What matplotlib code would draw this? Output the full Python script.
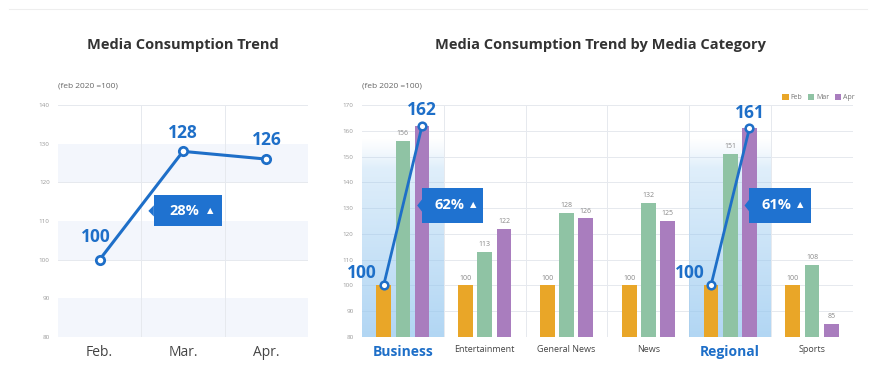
import matplotlib
matplotlib.use("Agg")
import matplotlib.pyplot as plt
import numpy as np
from matplotlib.patches import FancyBboxPatch, Polygon

# ---- data ----
months = ["Feb.", "Mar.", "Apr."]
overall = [100, 128, 126]
overall_change = "28%"

categories = ["Business", "Entertainment", "General News", "News", "Regional", "Sports"]
feb_vals = [100, 100, 100, 100, 100, 100]
mar_vals = [156, 113, 128, 132, 151, 108]
apr_vals = [162, 122, 126, 125, 161, 85]
highlight = ["Business", "Regional"]
highlight_change = {"Business": "62%", "Regional": "61%"}
legend_labels = ["Feb", "Mar", "Apr"]

left_ticks = [80, 90, 100, 110, 120, 130, 140]
right_ticks = [80, 90, 100, 110, 120, 130, 140, 150, 160, 170]

# ---- style ----
C_FEB = "#E9A628"
C_MAR = "#8FC3A4"
C_APR = "#A97DBE"
BLUE = "#1E6FC8"
BOX = "#1F72D0"
GRID = "#E6E9EE"
TICK = "#9A9A9A"
TXT = "#444444"
FONT = ["Open Sans", "DejaVu Sans"]
plt.rcParams["font.family"] = FONT

fig = plt.figure(figsize=(8.76, 3.79), dpi=100)
fig.patch.set_facecolor("white")

# top faint border
fig.add_artist(plt.Line2D([0.01, 0.99], [0.975, 0.975], color="#EEEEEE", lw=0.8))


def callout(ax, x, y, text, w, h):
    box = FancyBboxPatch((x - w / 2, y - h / 2), w, h,
                         boxstyle="square,pad=0", fc=BOX, ec="none", zorder=6)
    ax.add_patch(box)
    tri = Polygon([[x - w / 2, y + h * 0.18], [x - w / 2 - w * 0.08, y],
                   [x - w / 2, y - h * 0.18]], closed=True, fc=BOX, ec="none", zorder=6)
    ax.add_patch(tri)
    ax.text(x - w * 0.06, y, text, color="white", fontsize=10.5, fontweight="bold",
            ha="center", va="center", zorder=7)
    ax.text(x + w * 0.33, y + h * 0.02, "▲", color="white", fontsize=6,
            ha="center", va="center", zorder=7, family="DejaVu Sans")


def style_axes(ax, ticks):
    for s in ax.spines.values():
        s.set_visible(False)
    ax.set_yticks(ticks)
    ax.tick_params(axis="y", length=0, labelsize=4.5, labelcolor=TICK, pad=6)
    ax.tick_params(axis="x", length=0)
    for t in ticks:
        ax.axhline(t, color=GRID, lw=0.7, zorder=0)


# ---- left chart ----
axL = fig.add_axes([0.0662, 0.111, 0.2854, 0.612])
xL = np.arange(len(months))
axL.set_xlim(-0.5, len(months) - 0.5)
axL.set_ylim(left_ticks[0], left_ticks[-1])
style_axes(axL, left_ticks)
for i, (lo, hi) in enumerate(zip(left_ticks[:-1], left_ticks[1:])):
    if i % 2 == 0:
        axL.axhspan(lo, hi, color="#F3F6FC", zorder=0, lw=0)
for b in [0.5, 1.5, 2.5]:
    axL.axvline(b, color=GRID, lw=0.7, zorder=0)
axL.plot(xL, overall, color=BLUE, lw=2.2, zorder=4)
axL.plot(xL, overall, "o", ms=6, mfc="white", mec=BLUE, mew=2, zorder=5)
axL.text(xL[0] - 0.05, overall[0] + 3.5, str(overall[0]), color=BLUE, fontsize=12.5,
         fontweight="bold", ha="center", va="bottom")
for i in [1, 2]:
    axL.text(xL[i], overall[i] + 2.5, str(overall[i]), color=BLUE, fontsize=12.5,
             fontweight="bold", ha="center", va="bottom")
callout(axL, 1.06, 112.6, overall_change, 0.82, 8.0)
axL.set_xticks(xL)
axL.set_xticklabels(months, fontsize=10, color=TXT)
axL.tick_params(axis="x", pad=6)
axL.text(0.0, 1.065, "(feb 2020 =100)", transform=axL.transAxes, fontsize=6,
         color="#666666", ha="left", va="bottom")
fig.text(0.209, 0.882, "Media Consumption Trend", fontsize=10.5, fontweight="bold",
         color="#333333", ha="center", va="center")

# ---- right chart ----
axR = fig.add_axes([0.4132, 0.111, 0.5605, 0.612])
n = len(categories)
xR = np.arange(n)
axR.set_xlim(-0.5, n - 0.5)
axR.set_ylim(right_ticks[0], right_ticks[-1])
style_axes(axR, right_ticks)
for b in np.arange(0.5, n, 1):
    axR.axvline(b, color=GRID, lw=0.7, zorder=0)

# highlight gradient bands
grad = np.zeros((256, 1, 4))
base = np.array([0.58, 0.78, 0.94])
for k in range(256):
    frac = k / 255.0  # 0 at bottom
    grad[k, 0, :3] = base
    a = 0.72 - 0.5 * frac
    if frac > 0.85:
        a *= (1 - frac) / 0.15
    grad[k, 0, 3] = a
for i, c in enumerate(categories):
    if c in highlight:
        axR.imshow(grad, extent=(i - 0.5, i + 0.5, right_ticks[0], 157), origin="lower",
                   aspect="auto", zorder=1, interpolation="bicubic")

w = 0.18
off = 0.235
series = [feb_vals, mar_vals, apr_vals]
colors = [C_FEB, C_MAR, C_APR]
for j, (vals, col) in enumerate(zip(series, colors)):
    pos = xR + (j - 1) * off
    axR.bar(pos, np.array(vals) - right_ticks[0], bottom=right_ticks[0], width=w,
            color=col, zorder=2, label=legend_labels[j])
    for i, (p, v) in enumerate(zip(pos, vals)):
        if categories[i] in highlight and j != 1:
            continue
        axR.text(p, v + 1.5, str(v), fontsize=5, color="#888888", ha="center",
                 va="bottom", zorder=3)

for i, c in enumerate(categories):
    if c in highlight:
        xs = [xR[i] - off, xR[i] + off]
        ys = [feb_vals[i], apr_vals[i]]
        axR.plot(xs, ys, color=BLUE, lw=2, zorder=4)
        axR.plot(xs, ys, "o", ms=5.5, mfc="white", mec=BLUE, mew=1.8, zorder=5)
        axR.text(xs[0] - 0.08, ys[0] + 1.5, str(ys[0]), color=BLUE, fontsize=12.5,
                 fontweight="bold", ha="right", va="bottom", zorder=5)
        axR.text(xs[1], ys[1] + 2.5, str(ys[1]), color=BLUE, fontsize=12.5,
                 fontweight="bold", ha="center", va="bottom", zorder=5)
        callout(axR, xR[i] + 0.61, 131, highlight_change[c], 0.75, 13.5)

axR.set_xticks(xR)
axR.set_xticklabels(categories)
axR.tick_params(axis="x", pad=6)
for lab in axR.get_xticklabels():
    if lab.get_text() in highlight:
        lab.set_color(BLUE)
        lab.set_fontsize(10)
        lab.set_fontweight("bold")
    else:
        lab.set_color(TXT)
        lab.set_fontsize(6.5)
axR.text(0.0, 1.065, "(feb 2020 =100)", transform=axR.transAxes, fontsize=6,
         color="#666666", ha="left", va="bottom")
leg = axR.legend(loc="lower right", bbox_to_anchor=(1.01, 1.005), ncol=3, frameon=False,
                 fontsize=5, handlelength=0.9, handleheight=0.9, handletextpad=0.3,
                 columnspacing=0.8, borderaxespad=0)
for t in leg.get_texts():
    t.set_color("#777777")
fig.text(0.685, 0.882, "Media Consumption Trend by Media Category", fontsize=10.5,
         fontweight="bold", color="#333333", ha="center", va="center")

fig.savefig("out.png", dpi=100, facecolor="white")
